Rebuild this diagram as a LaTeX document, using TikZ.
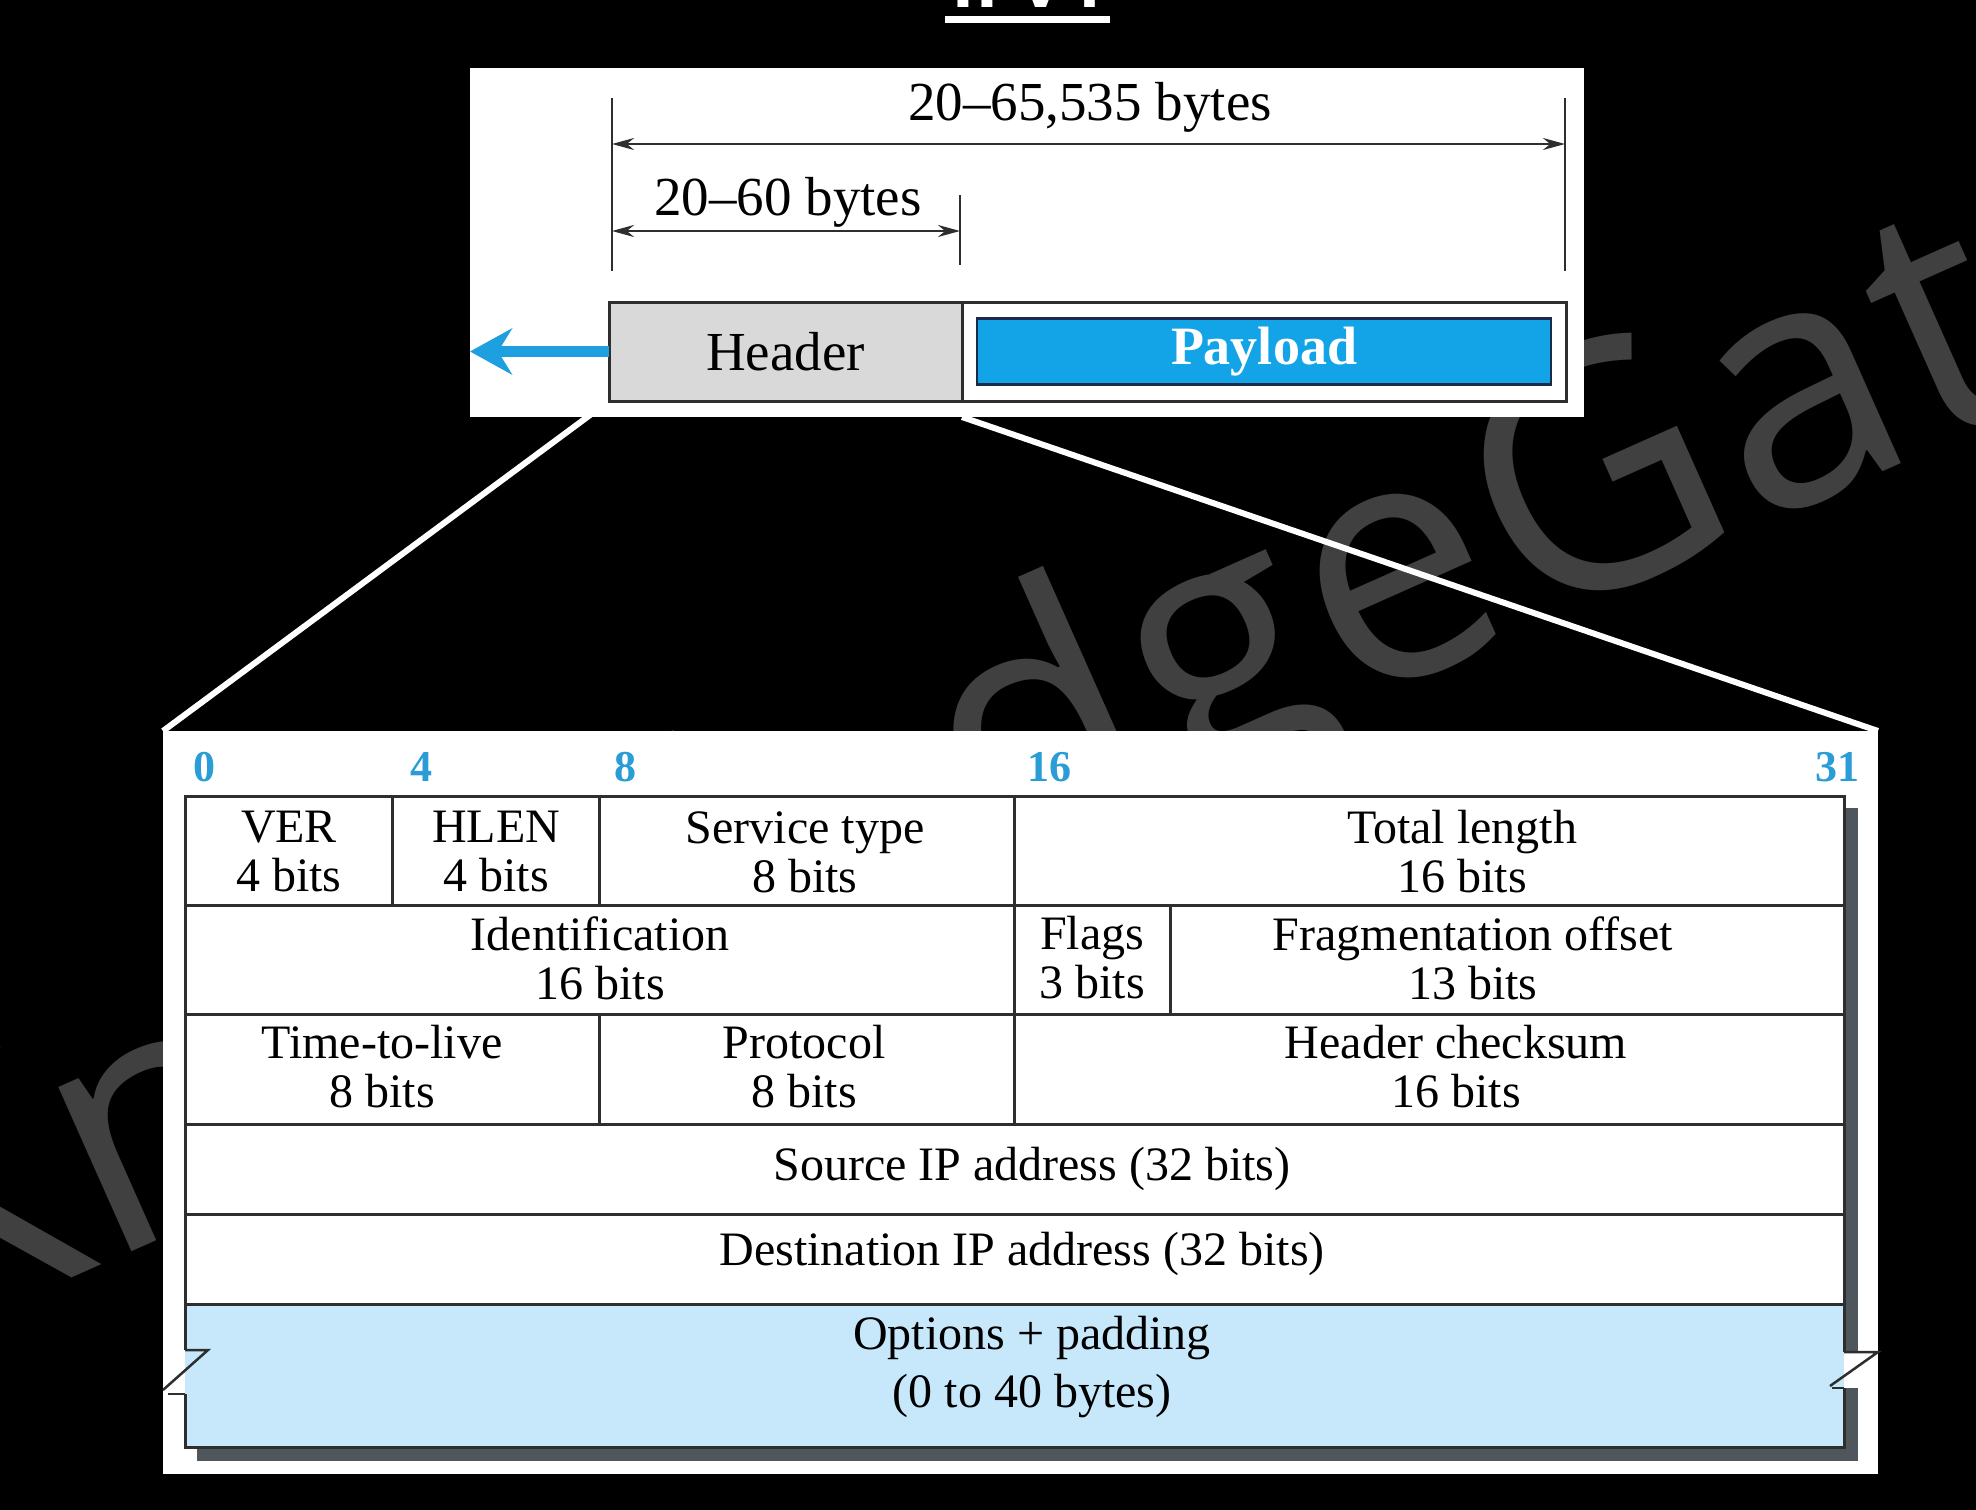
\documentclass[tikz,border=0pt]{standalone}
\usepackage{fontspec}
\setmainfont{Liberation Serif}
\newfontfamily\markfont[LetterSpace=1.5]{Open Sans}
\newfontfamily\titlefont{Open Sans}
\usetikzlibrary{arrows.meta,positioning,calc,backgrounds}

\definecolor{linegray}{HTML}{2E2E2E}
\definecolor{hdrgray}{HTML}{D9D9D9}
\definecolor{payblue}{HTML}{12A4E6}
\definecolor{paynavy}{HTML}{1B2A4A}
\definecolor{arrowblue}{HTML}{1D9FE0}
\definecolor{bitblue}{HTML}{2A9CD6}
\definecolor{optblue}{HTML}{C6E8FA}
\definecolor{shadowgray}{HTML}{4F575C}
\definecolor{markgray}{HTML}{404040}

\begin{document}
\begin{tikzpicture}[x=1pt,y=-1pt]
\tikzset{box/.style={draw=linegray,line width=3pt,inner sep=0pt,outer sep=0pt,minimum height=99pt,anchor=north west}}
\tikzset{whitebox/.style={fill=white,inner sep=0pt,outer sep=0pt,anchor=north west}}
\tikzset{dimline/.style={draw=linegray,line width=2.5pt,{Stealth[length=22pt,width=12pt]}-{Stealth[length=22pt,width=12pt]}}}
\tikzset{tickline/.style={draw=linegray,line width=2.5pt}}
\tikzset{outarrow/.style={draw=arrowblue,line width=11pt,-{Stealth[length=42pt,width=46pt,inset=14pt]}}}
\tikzset{zoomline/.style={draw=white,line width=6pt}}
\tikzset{toptext/.style={font=\fontsize{55}{55}\selectfont,inner sep=0pt}}
\tikzset{bitnum/.style={text=bitblue,font=\fontsize{44}{44}\selectfont\bfseries,inner sep=0pt,anchor=base west}}
\tikzset{fieldtext/.style={font=\fontsize{48}{49}\selectfont,align=center,inner sep=0pt}}
\tikzset{grid/.style={draw=linegray,line width=3pt}}

\useasboundingbox (0,0) rectangle (1976,1510);

% datagram
\node[whitebox,minimum width=1114pt,minimum height=349pt] (topbox) at (470,68) {};
\node[box,fill=hdrgray,minimum width=353pt,font=\fontsize{55}{55}\selectfont] (header) at (609,302) {Header};
\node[box,fill=white,minimum width=604pt] (paybox) at (header.north east) {};
\node[fill=payblue,draw=paynavy,line width=2.5pt,minimum width=574pt,minimum height=66pt,inner sep=0pt,
  text=white,font=\bfseries\fontsize{54}{54}\selectfont] (payload) at (paybox.center) {Payload};

\coordinate (dimtopL) at (612,98);  \coordinate (dimbotL) at (612,271);
\coordinate (dimtopR) at (1565,98); \coordinate (dimbotR) at (1565,271);
\coordinate (dimtopM) at (960,195); \coordinate (dimbotM) at (960,265);
\draw[tickline] (dimtopL) -- (dimbotL);
\draw[tickline] (dimtopR) -- (dimbotR);
\draw[tickline] (dimtopM) -- (dimbotM);
\draw[dimline] (dimtopL |- 0,144) -- (dimtopR |- 0,144);
\draw[dimline] (dimtopL |- 0,231) -- (dimtopM |- 0,231);
\node[toptext] (totlen) at (1090,107) {20--65,535 bytes};
\node[toptext] (hdrlen) at (788,202) {20--60 bytes};

\coordinate (outtip) at (470,351.5);
\draw[outarrow] (header.west) -- (outtip);

% header layout
\node[whitebox,minimum width=1715pt,minimum height=743pt] (tblbox) at (163,731) {};
\fill[shadowgray] (1844,808) rectangle (1858,1352);
\fill[shadowgray] (1844,1388) rectangle (1858,1461);
\fill[shadowgray] (197,1447) rectangle (1858,1461);
\fill[optblue] (185,1304) rectangle (1844,1447);

\draw[grid] (185,1350) -- (185,796) -- (1844,796) -- (1844,1352);
\draw[grid] (185,1394) -- (185,1447) -- (1844,1447) -- (1844,1388);
\foreach \y in {905,1014,1124,1214,1304}
  \draw[grid] (185,\y) -- (1844,\y);
\draw[grid] (392.4,796) -- (392.4,905);
\draw[grid] (599.7,796) -- (599.7,905);
\draw[grid] (1014.5,796) -- (1014.5,1124);
\draw[grid] (1170,905) -- (1170,1014);
\draw[grid] (599.7,1014) -- (599.7,1124);
% break marks
\draw[grid,line width=2.5pt] (185,1350) -- (208,1350) -- (163,1390);
\draw[grid,line width=2.5pt] (168,1394) -- (185,1394);
\draw[grid,line width=2.5pt] (1844,1352) -- (1878,1352) -- (1830,1386);
\draw[grid,line width=2.5pt] (1832,1388) -- (1844,1388);

\foreach \b/\x in {0/193,4/410,8/614,16/1027}
  \node[bitnum] (bit\b) at (\x,781) {\b};
\node[bitnum,anchor=base east] (bit31) at (1860,781) {31};

\foreach \name/\x/\y/\txt in {ver/289/852/{VER\\4 bits},hlen/496/852/{HLEN\\4 bits},
    service/805/852/{Service type\\8 bits},total/1462/852/{Total length\\16 bits},
    ident/600/958/{Identification\\16 bits},flags/1092/958/{Flags\\3 bits},
    frag/1473/958/{Fragmentation offset\\13 bits},ttl/382/1067/{Time-to-live\\8 bits},
    proto/804/1067/{Protocol\\8 bits},chksum/1456/1067/{Header checksum\\16 bits},
    srcip/1032/1169/{Source IP address (32 bits)},dstip/1022/1254/{Destination IP address (32 bits)}}
  \node[fieldtext] (\name) at (\x,\y) {\txt};
\node[fieldtext,font=\fontsize{48}{58}\selectfont] (options) at (1032,1367) {Options + padding\\(0 to 40 bytes)};

\begin{scope}[on background layer]
\fill[black] (0,0) rectangle (1976,1510);
% watermark
\node[text=markgray,font=\markfont\fontsize{336}{336}\selectfont,rotate=24,anchor=base west,inner sep=0pt] (mark) at (-87,1349) {KnowledgeGate};
% title, only its foot is on the page
\node[text=white,font=\titlefont\bfseries\fontsize{72}{72}\selectfont,anchor=base,inner sep=0pt] (title) at (1027,7) {IPv4};
\fill[white] (945,16) rectangle (1110,23);
\draw[zoomline] (header.south west) -- (tblbox.north west);
\draw[zoomline] (header.south east |- topbox.south) -- (tblbox.north east);
\end{scope}
\end{tikzpicture}
\end{document}
